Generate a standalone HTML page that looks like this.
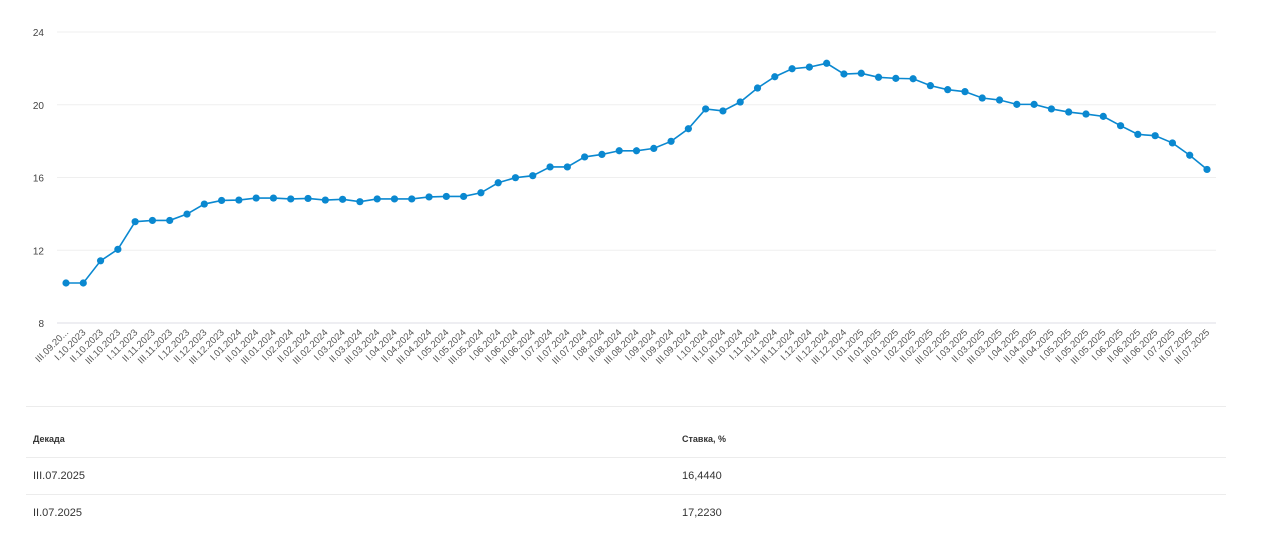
<!DOCTYPE html>
<html><head><meta charset="utf-8">
<style>
body{margin:0;background:#fff;width:1262px;height:541px;overflow:hidden;font-family:"Liberation Sans","Noto Sans CJK SC",sans-serif;}
svg{position:absolute;left:0;top:0}
.tbl{position:absolute;left:26px;width:1200px;}
.line{position:absolute;left:26px;width:1200px;height:1px;background:#ececec}
.cell{position:absolute;font-size:11px;color:#333}
.hd{font-weight:bold;font-size:9px;color:#333}
</style></head><body>
<svg id="chart" width="1262" height="400"></svg>
<div class="line" style="top:406px"></div>
<div class="cell hd" style="left:33px;top:434px">Декада</div>
<div class="cell hd" style="left:682px;top:434px">Ставка, %</div>
<div class="line" style="top:457px"></div>
<div class="cell" style="left:33px;top:470px">III.07.2025</div>
<div class="cell" style="left:682px;top:470px">16,4440</div>
<div class="line" style="top:494px"></div>
<div class="cell" style="left:33px;top:507px">II.07.2025</div>
<div class="cell" style="left:682px;top:507px">17,2230</div>
<script>
const categories = ["III.09.20...","I.10.2023","II.10.2023","III.10.2023","I.11.2023","II.11.2023","III.11.2023","I.12.2023","II.12.2023","III.12.2023",
"I.01.2024","II.01.2024","III.01.2024","I.02.2024","II.02.2024","III.02.2024","I.03.2024","II.03.2024","III.03.2024","I.04.2024","II.04.2024","III.04.2024",
"I.05.2024","II.05.2024","III.05.2024","I.06.2024","II.06.2024","III.06.2024","I.07.2024","II.07.2024","III.07.2024","I.08.2024","II.08.2024","III.08.2024",
"I.09.2024","II.09.2024","III.09.2024","I.10.2024","II.10.2024","III.10.2024","I.11.2024","II.11.2024","III.11.2024","I.12.2024","II.12.2024","III.12.2024",
"I.01.2025","II.01.2025","III.01.2025","I.02.2025","II.02.2025","III.02.2025","I.03.2025","II.03.2025","III.03.2025","I.04.2025","II.04.2025","III.04.2025",
"I.05.2025","II.05.2025","III.05.2025","I.06.2025","II.06.2025","III.06.2025","I.07.2025","II.07.2025","III.07.2025"];
const rates = [10.2,10.2,11.42,12.05,13.57,13.64,13.64,13.99,14.54,14.74,
14.76,14.87,14.87,14.82,14.85,14.76,14.8,14.67,14.82,14.82,14.82,14.93,
14.96,14.96,15.16,15.71,15.99,16.1,16.58,16.58,17.13,17.27,17.47,17.47,
17.6,17.99,18.68,19.77,19.66,20.15,20.92,21.54,21.98,22.07,22.28,
21.69,21.73,21.51,21.45,21.43,21.05,20.83,20.72,20.37,20.26,20.02,20.02,
19.77,19.6,19.49,19.36,18.85,18.37,18.3,17.9,17.223,16.444];
const yTicks = [8,12,16,20,24];

const NS="http://www.w3.org/2000/svg";
const svg=document.getElementById('chart');
const X0=66,X1=1207,Y0=323,Y1=32,VMIN=8,VMAX=24;
function xs(i){return X0+(X1-X0)*i/(categories.length-1);}
function ys(v){return Y0-(v-VMIN)/(VMAX-VMIN)*(Y0-Y1);}
function mk(t,a){const e=document.createElementNS(NS,t);for(const k in a)e.setAttribute(k,a[k]);svg.appendChild(e);return e;}
yTicks.forEach(t=>{
  const l=mk('line',{x1:57,x2:1216,y1:ys(t),y2:ys(t),stroke:t===VMIN?'#dcdce6':'#efefef','stroke-width':1});
  
  
  const tx=mk('text',{x:44,y:ys(t)+4,'text-anchor':'end','font-size':10,fill:'#444'});
  tx.textContent=t;
  
  
});
categories.forEach((c,i)=>{
  const x=xs(i),y=Y0+10;
  const tx=mk('text',{x:x+3,y:y,'text-anchor':'end','font-size':9.5,fill:'#555',transform:`rotate(-45 ${x+3} ${y})`});
  tx.textContent=c;
  
  
});
const pl=mk('polyline',{points:rates.map((v,i)=>xs(i)+','+ys(v)).join(' '),fill:'none',stroke:'#0a88d0','stroke-width':1.6});


rates.forEach((v,i)=>{
  const c=mk('circle',{cx:xs(i),cy:ys(v),r:3.6,fill:'#0a88d0'});
  
  
});
</script>
</body></html>
